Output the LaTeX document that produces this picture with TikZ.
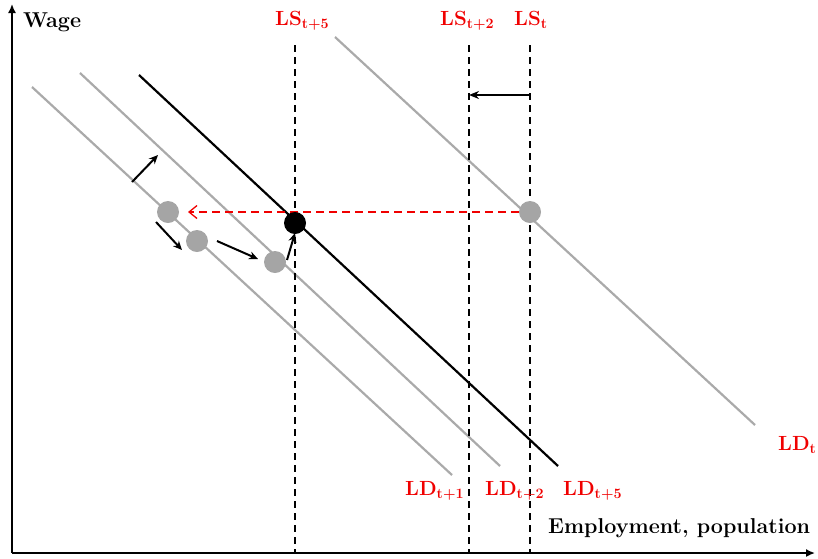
\documentclass[tikz,border=0pt]{standalone}
\usetikzlibrary{arrows.meta}
\definecolor{ldgray}{RGB}{170,170,170}
\definecolor{dotgray}{RGB}{165,165,165}
\definecolor{lblred}{RGB}{240,0,0}
\begin{document}
\begin{tikzpicture}[x=1pt,y=-1pt,
  axis/.style={line width=1.6pt,-{Latex[length=9pt,width=8pt]}},
  ldline/.style={line width=2.2pt,ldgray},
  ldmain/.style={line width=2.2pt,black},
  lsline/.style={line width=1.2pt,dash pattern=on 7pt off 5pt},
  dotg/.style={circle,fill=dotgray,minimum size=22pt,inner sep=0pt},
  dotb/.style={circle,fill=black,minimum size=22pt,inner sep=0pt},
  movearrow/.style={line width=2pt,-{Stealth[length=9pt,width=8pt]}},
  redlbl/.style={text=lblred,font=\fontsize{20.5}{24}\selectfont\bfseries,inner sep=0pt,anchor=base west},
  axlbl/.style={font=\fontsize{21.5}{26}\selectfont\bfseries,inner sep=0pt,anchor=base west}]
\useasboundingbox (0,0) rectangle (818,558);
% axes
\coordinate (O) at (12,553);
\coordinate (ytop) at (12,4);
\coordinate (xend) at (815,553);
\draw[axis] (O) -- (ytop);
\draw[axis] (O) -- (xend);
\node[axlbl] (wage) at (23,27) {Wage};
\node[axlbl] (emp) at (548,533) {Employment, population};
% labour demand lines
\coordinate (ldt1a) at (32,87);   \coordinate (ldt1b) at (452,475);
\coordinate (ldt2a) at (80,73);   \coordinate (ldt2b) at (500,466);
\coordinate (ldt5a) at (139,75);  \coordinate (ldt5b) at (558,466);
\coordinate (ldta) at (335,37);   \coordinate (ldtb) at (755,425);
\draw[ldline] (ldt1a) -- (ldt1b);
\draw[ldline] (ldt2a) -- (ldt2b);
\draw[ldline] (ldta) -- (ldtb);
\draw[ldmain] (ldt5a) -- (ldt5b);
% labour supply lines
\coordinate (ls5a) at (295,45);  \coordinate (ls5b) at (295,553);
\coordinate (ls2a) at (469,45);  \coordinate (ls2b) at (469,553);
\coordinate (lsta) at (530,45);  \coordinate (lstb) at (530,553);
\draw[lsline] (ls5a) -- (ls5b);
\draw[lsline] (ls2a) -- (ls2b);
\draw[lsline] (lsta) -- (lstb);
% shift arrow of supply
\coordinate (shA) at (530,95); \coordinate (shB) at (469,95);
\draw[line width=2pt,-{Stealth[length=10pt,width=8pt]}] (shA) -- (shB);
% red dashed arrow
\node[dotg] (pt) at (530,212) {};
\coordinate (redend) at (188,212);
\draw[lblred,line width=1.3pt,dash pattern=on 8pt off 5pt,-{Straight Barb[length=8pt,width=13pt]}] (pt.west) -- (redend);
% dots
\node[dotg] (p1) at (168,212) {};
\node[dotg] (p2) at (197,241) {};
\node[dotg] (p3) at (275,262) {};
\node[dotb] (p5) at (295,223) {};
% movement arrows
\coordinate (m1a) at (132,182); \coordinate (m1b) at (158,155);
\coordinate (m2a) at (156,222); \coordinate (m2b) at (182,250);
\coordinate (m3a) at (217,241); \coordinate (m3b) at (258,259);
\coordinate (m4a) at (287,260); \coordinate (m4b) at (295,233);
\draw[movearrow] (m1a) -- (m1b);
\draw[movearrow] (m2a) -- (m2b);
\draw[movearrow] (m3a) -- (m3b);
\draw[movearrow] (m4a) -- (m4b);
% labels
\node[redlbl] (lls5) at (275,25) {LS\textsubscript{t+5}};
\node[redlbl] (lls2) at (440,25) {LS\textsubscript{t+2}};
\node[redlbl] (llst) at (514,25) {LS\textsubscript{t}};
\node[redlbl] (lld1) at (405,495) {LD\textsubscript{t+1}};
\node[redlbl] (lld2) at (485,495) {LD\textsubscript{t+2}};
\node[redlbl] (lld5) at (563,495) {LD\textsubscript{t+5}};
\node[redlbl] (lldt) at (778,450) {LD\textsubscript{t}};
\end{tikzpicture}
\end{document}
